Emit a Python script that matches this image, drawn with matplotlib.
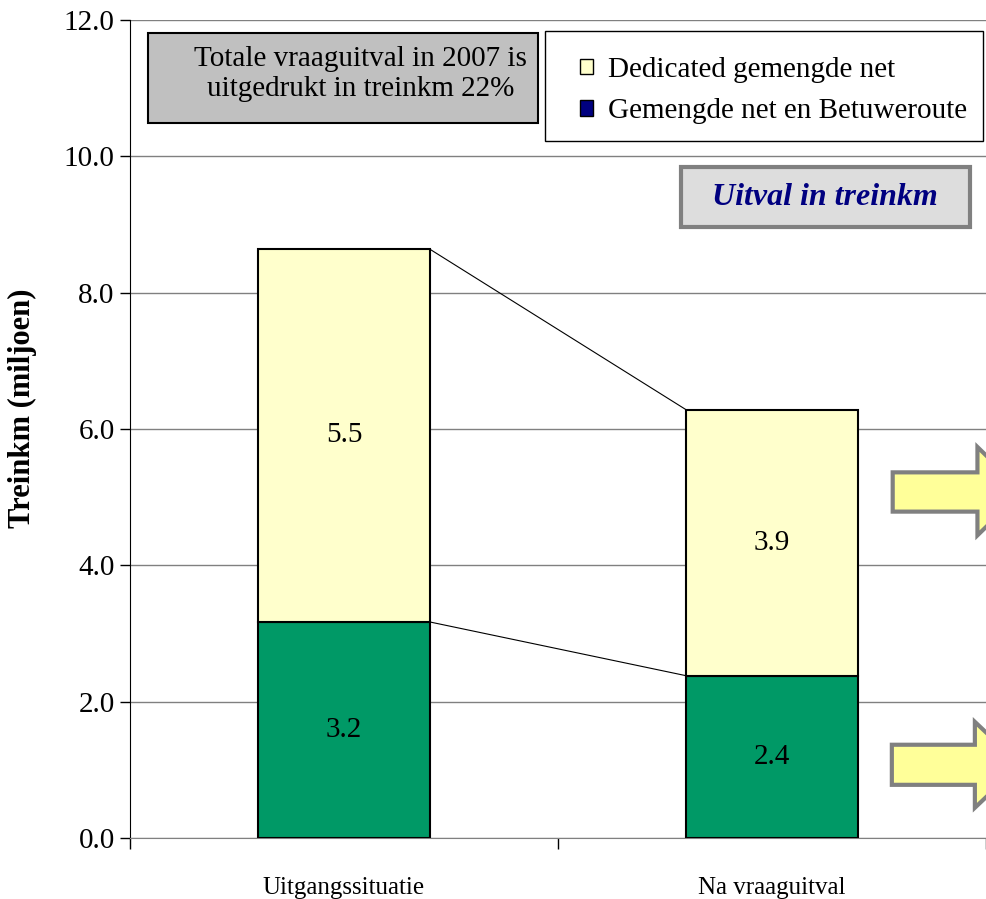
import numpy as np
import matplotlib.pyplot as plt
from matplotlib.patches import Rectangle, Polygon, Patch

plt.rcParams['font.family'] = ['Liberation Serif', 'DejaVu Serif']

categories = ['Uitgangssituatie', 'Na vraaguitval']
gemengd = [3.17, 2.38]
dedicated = [5.47, 3.90]
gemengd_labels = ['3.2', '2.4']
dedicated_labels = ['5.5', '3.9']
yticks = [0, 2, 4, 6, 8, 10, 12]


def arrow(ax, x0, x1, xt, yb0, yb1, yh0, yh1):
    yc = (yh0 + yh1) / 2
    pts = [(x0, yb0), (x1, yb0), (x1, yh0), (xt, yc), (x1, yh1), (x1, yb1), (x0, yb1)]
    ax.add_patch(Polygon(pts, closed=True, transform=ax.transAxes, clip_on=False,
                         facecolor='#FFFF99', edgecolor='#808080', lw=3, zorder=5))


def main():
    fig = plt.figure(figsize=(9.86, 8.99), dpi=100)
    ax = fig.add_axes([130/986, 61/899, 856/986, 818/899])
    x = np.arange(len(categories))
    w = 0.4

    ax.bar(x, gemengd, w, color='#009966', edgecolor='black', lw=1.5, zorder=3)
    ax.bar(x, dedicated, w, bottom=gemengd, color='#FFFFCC', edgecolor='black', lw=1.5, zorder=3)

    tops = np.array(gemengd) + np.array(dedicated)
    ax.plot([x[0] + w/2, x[1] - w/2], [gemengd[0], gemengd[1]], color='black', lw=0.8, zorder=2)
    ax.plot([x[0] + w/2, x[1] - w/2], [tops[0], tops[1]], color='black', lw=0.8, zorder=2)

    for i in x:
        ax.text(i, gemengd[i] / 2, gemengd_labels[i], ha='center', va='center', fontsize=21, zorder=4)
        ax.text(i, gemengd[i] + dedicated[i] / 2, dedicated_labels[i], ha='center', va='center',
                fontsize=21, zorder=4)

    ax.set_xlim(-0.5, 1.5)
    ax.set_ylim(0, 12)
    ax.set_yticks(yticks)
    ax.set_yticklabels([f'{v:.1f}' for v in yticks], fontsize=21)
    ax.tick_params(axis='y', direction='out', length=7, width=1, pad=4)
    ax.set_xticks(x)
    ax.set_xticklabels(categories, fontsize=18)
    ax.set_xticks([-0.5, 0.5, 1.5], minor=True)
    ax.tick_params(axis='x', which='major', length=0, pad=28)
    ax.tick_params(axis='x', which='minor', length=8, width=1, direction='out')
    ax.grid(axis='y', color='#808080', lw=1, zorder=0)
    for s in ['top', 'right']:
        ax.spines[s].set_visible(False)
    ax.spines['bottom'].set_color('#808080')
    ax.set_ylabel('Treinkm (miljoen)', fontsize=22, fontweight='bold')
    ax.yaxis.set_label_coords(-0.109, 0.5257)

    # note box
    ax.add_patch(Rectangle((0.021, 0.874), 0.4556, 0.110, transform=ax.transAxes,
                           facecolor='#C0C0C0', edgecolor='black', lw=1.5, zorder=5))
    ax.text(0.269, 0.9334, 'Totale vraaguitval in 2007 is\nuitgedrukt in treinkm 22%',
            transform=ax.transAxes, ha='center', va='center', fontsize=21,
            linespacing=1.2, zorder=6)

    # legend box drawn separately so the padding can match
    ax.add_patch(Rectangle((415/856, 697/818), 438/856, 110/818, transform=ax.transAxes,
                           facecolor='white', edgecolor='black', lw=1, zorder=5))
    handles = [Patch(facecolor='#FFFFCC', edgecolor='black', label='Dedicated gemengde net'),
               Patch(facecolor='#000080', edgecolor='black', label='Gemengde net en Betuweroute')]
    leg = ax.legend(handles=handles, loc='center left', bbox_to_anchor=(450/856, 747.5/818),
                    fontsize=21, frameon=False, handlelength=0.45, handleheight=0.45,
                    handletextpad=0.5, borderpad=0, labelspacing=0.52, borderaxespad=0)
    leg.set_zorder(6)

    # label box
    ax.add_patch(Rectangle((0.644, 0.747), 0.3376, 0.073, transform=ax.transAxes,
                           facecolor='#DDDDDD', edgecolor='#808080', lw=3, zorder=5))
    ax.text(0.812, 0.7836, 'Uitval in treinkm', transform=ax.transAxes, ha='center',
            va='center', fontsize=23, fontweight='bold', style='italic', color='#000080', zorder=6)

    arrow(ax, 0.891, 0.990, 1.043, 0.399, 0.447, 0.370, 0.478)
    arrow(ax, 0.890, 0.987, 1.040, 0.065, 0.114, 0.037, 0.142)

    fig.savefig('out.png', dpi=100)
    plt.close(fig)


if __name__ == "__main__":
    main()
